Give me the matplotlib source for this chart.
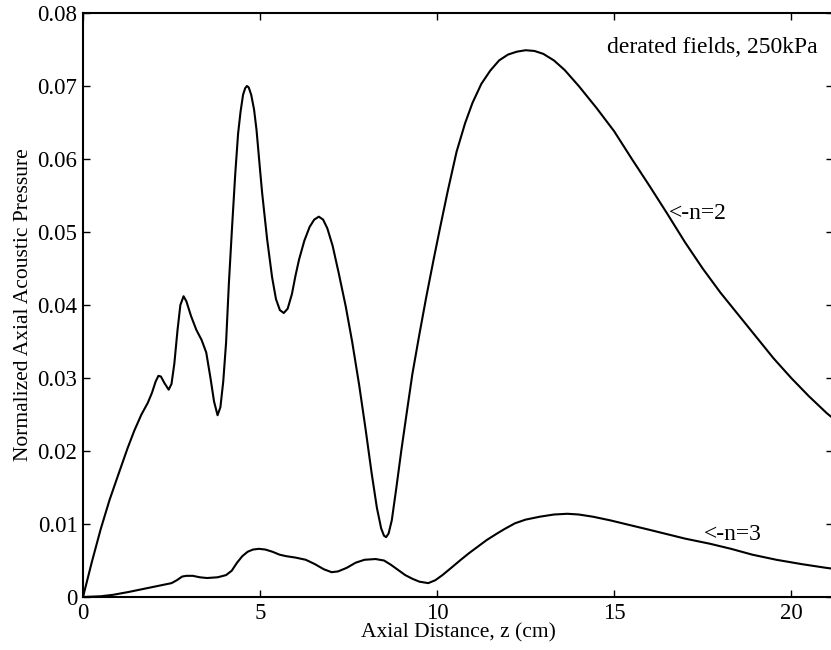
import matplotlib.pyplot as plt

plt.rcParams['font.family'] = ['Liberation Serif', 'DejaVu Serif']

# n=2 curve
z_n2 = [0, 0.25, 0.5, 0.75, 1.0, 1.26, 1.45, 1.65, 1.83, 1.95, 2.05, 2.13, 2.2, 2.3,
        2.42, 2.5, 2.58, 2.67, 2.75, 2.84, 2.92, 3.05, 3.2, 3.35, 3.48, 3.6, 3.7,
        3.8, 3.88, 3.96, 4.04, 4.12, 4.21, 4.3, 4.38, 4.45, 4.52, 4.58, 4.63, 4.68,
        4.75, 4.83, 4.9, 5.0, 5.06, 5.2, 5.34, 5.45, 5.56, 5.67, 5.78, 5.9, 6.0,
        6.1, 6.25, 6.4, 6.53, 6.66, 6.78, 6.9, 7.05, 7.22, 7.42, 7.6, 7.8, 7.98,
        8.15, 8.3, 8.42, 8.5, 8.56, 8.63, 8.72, 8.85, 8.99, 9.15, 9.3, 9.5, 9.69,
        9.9, 10.08, 10.3, 10.55, 10.79, 11.0, 11.25, 11.5, 11.75, 12.0, 12.25,
        12.5, 12.75, 13.0, 13.3, 13.6, 14.0, 14.5, 15.0, 15.5, 16.0, 16.5, 17.0,
        17.5, 18.0, 18.5, 19.0, 19.5, 20.0, 20.5, 21.0, 21.3]
p_n2 = [0, 0.0048, 0.0093, 0.0133, 0.0168, 0.0204, 0.0228, 0.0250, 0.0266, 0.0280,
        0.0295, 0.0303, 0.0302, 0.0293, 0.0284, 0.0292, 0.0320, 0.0366, 0.0400,
        0.0412, 0.0405, 0.0385, 0.0366, 0.0352, 0.0335, 0.0300, 0.0268, 0.0249,
        0.0260, 0.0295, 0.0348, 0.0430, 0.0507, 0.0580, 0.0635, 0.0665, 0.0688,
        0.0697, 0.0700, 0.0698, 0.0688, 0.0668, 0.0640, 0.0585, 0.0553, 0.0490,
        0.0438, 0.0408, 0.0393, 0.0389, 0.0395, 0.0415, 0.0440, 0.0462, 0.0488,
        0.0507, 0.0517, 0.0521, 0.0517, 0.0505, 0.0481, 0.0444, 0.0398, 0.0350,
        0.0290, 0.0230, 0.0170, 0.0122, 0.0094, 0.0084, 0.0082, 0.0087, 0.0105,
        0.0150, 0.0201, 0.0255, 0.0305, 0.0360, 0.0410, 0.0462, 0.0505, 0.0556,
        0.0610, 0.0649, 0.0677, 0.0703, 0.0721, 0.0735, 0.0743, 0.0747, 0.0749,
        0.0748, 0.0744, 0.0735, 0.0722, 0.0700, 0.0670, 0.0638, 0.0600, 0.0563,
        0.0525, 0.0486, 0.0450, 0.0417, 0.0387, 0.0357, 0.0327, 0.0300, 0.0275,
        0.0252, 0.0240]

# n=3 curve
z_n3 = [0, 0.5, 0.85, 1.3, 1.8, 2.2, 2.5, 2.65, 2.8, 2.92, 3.1, 3.3, 3.5, 3.8, 4.04,
        4.2, 4.35, 4.5, 4.65, 4.8, 4.97, 5.15, 5.35, 5.55, 5.73, 6.0, 6.29, 6.55,
        6.8, 7.02, 7.2, 7.45, 7.7, 7.95, 8.26, 8.5, 8.7, 8.9, 9.1, 9.3, 9.5, 9.75,
        9.95, 10.15, 10.4, 10.67, 10.9, 11.15, 11.4, 11.66, 11.9, 12.2, 12.5, 12.9,
        13.3, 13.68, 14.0, 14.4, 14.89, 15.4, 16.0, 16.5, 17.0, 17.7, 18.3, 18.9,
        19.58, 20.3, 20.98, 21.3]
p_n3 = [0, 0.0001, 0.0003, 0.0007, 0.0012, 0.0016, 0.0019, 0.0023, 0.0028, 0.0029,
        0.0029, 0.0027, 0.0026, 0.0027, 0.0030, 0.0036, 0.0047, 0.0056, 0.0062,
        0.0065, 0.0066, 0.0065, 0.0062, 0.0058, 0.0056, 0.0054, 0.0051, 0.0045,
        0.0038, 0.0034, 0.0035, 0.0040, 0.0047, 0.0051, 0.0052, 0.0050, 0.0044,
        0.0037, 0.0030, 0.0025, 0.0021, 0.0019, 0.0023, 0.0030, 0.0040, 0.0051,
        0.0060, 0.0069, 0.0078, 0.0086, 0.0093, 0.0101, 0.0106, 0.0110, 0.0113,
        0.0114, 0.0113, 0.0110, 0.0105, 0.0099, 0.0092, 0.0086, 0.0080, 0.0073,
        0.0066, 0.0058, 0.0051, 0.0045, 0.0040, 0.0038]

x_ticks = [0, 5, 10, 15, 20]
y_ticks = [0, 0.01, 0.02, 0.03, 0.04, 0.05, 0.06, 0.07, 0.08]
y_tick_labels = ['0', '0.01', '0.02', '0.03', '0.04', '0.05', '0.06', '0.07', '0.08']

fig = plt.figure(figsize=(8.31, 6.5), dpi=100)
# right spine sits just past the page edge, as in the scan
ax = fig.add_axes([83 / 831, 1 - 597 / 650, 750 / 831, 584 / 650])

ax.plot(z_n2, p_n2, color='black', linewidth=1.5)
ax.plot(z_n3, p_n3, color='black', linewidth=1.5)

ax.set_xlim(0, 21.18)
ax.set_ylim(0, 0.08)
ax.set_xticks(x_ticks)
ax.set_yticks(y_ticks)
ax.set_yticklabels(y_tick_labels)
ax.tick_params(direction='in', top=True, right=True, length=5, width=1.0,
               labelsize=16.5, pad=4)
for s in ax.spines.values():
    s.set_linewidth(1.5)

ax.set_xlabel('Axial Distance, z (cm)', fontsize=15.5, labelpad=0)
ax.set_ylabel('Normalized Axial Acoustic Pressure', fontsize=15.5, labelpad=3)

ax.text(14.8, 0.0753, 'derated fields, 250kPa', fontsize=17, va='center', ha='left')
ax.text(16.55, 0.0526, '<-n=2', fontsize=17, va='center', ha='left')
ax.text(17.53, 0.0085, '<-n=3', fontsize=17, va='center', ha='left')

fig.savefig('out.png', dpi=100)
